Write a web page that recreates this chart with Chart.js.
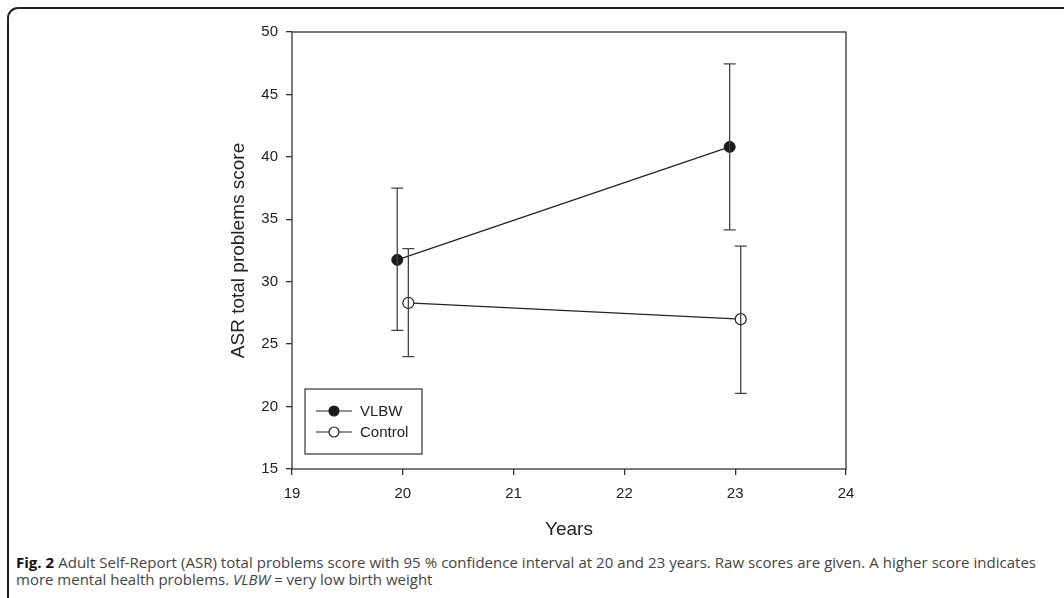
<!DOCTYPE html>
<html lang="en">
<head>
    <meta charset="UTF-8">
    <title>ASR total problems score</title>
    <script src="https://cdn.jsdelivr.net/npm/chart.js"></script>
    <style>
        html, body { margin: 0; padding: 0; background: #fff; }
        #wrap { position: relative; width: 1064px; height: 598px; overflow: hidden; }
        #frame { position: absolute; left: 7px; top: 7px; width: 1100px; height: 640px;
                 border: 2px solid #222; border-radius: 11px; box-sizing: border-box; }
        #caption { position: absolute; left: 16px; top: 554px; width: 1020px; font-family: "Open Sans", sans-serif;
                   font-size: 15px; line-height: 17px; color: #444; text-align: justify; }
        #caption b { color: #111; }
        #caption .l1 { display: block; text-align-last: justify; white-space: nowrap; }
        #caption .l2 { display: block; white-space: nowrap; }
    </style>
</head>
<body>
<div id="wrap">
    <div id="frame"></div>
    <canvas id="asrChart" width="1064" height="545" style="position:absolute;left:0;top:0;"></canvas>
    <div id="caption"><span class="l1"><b>Fig. 2</b> Adult Self-Report (ASR) total problems score with 95 % confidence interval at 20 and 23 years. Raw scores are given. A higher score indicates</span><span class="l2">more mental health problems. <i>VLBW</i> = very low birth weight</span></div>
</div>

<script>
    // values (groups slightly offset around 20 and 23 years)
    const vlbwYears = [19.95, 22.95];
    const vlbwMean = [31.75, 40.8];
    const vlbwLow = [26.1, 34.15];
    const vlbwHigh = [37.5, 47.45];

    const controlYears = [20.05, 23.05];
    const controlMean = [28.3, 27.0];
    const controlLow = [24.0, 21.05];
    const controlHigh = [32.65, 32.85];

    const seriesNames = ["VLBW", "Control"];
    const xTicks = [19, 20, 21, 22, 23, 24];
    const yTicks = [15, 20, 25, 30, 35, 40, 45, 50];

    const axisColor = "#333";
    const textColor = "#222";
    const arial = "'Liberation Sans', Arial, sans-serif";

    function toPoints(xs, ys) {
        return xs.map((x, i) => ({ x: x, y: ys[i] }));
    }

    // error bars with caps + closed plot box
    const errorBars = {
        id: "errorBars",
        beforeDatasetsDraw(chart) {
            const { ctx, chartArea: a } = chart;
            ctx.save();
            ctx.strokeStyle = axisColor;
            ctx.lineWidth = 1.3;
            ctx.strokeRect(a.left, a.top, a.right - a.left, a.bottom - a.top);
            ctx.restore();
        },
        afterDatasetsDraw(chart) {
            const { ctx, scales: { x, y } } = chart;
            const sets = [[vlbwYears, vlbwLow, vlbwHigh], [controlYears, controlLow, controlHigh]];
            ctx.save();
            ctx.strokeStyle = "#444";
            ctx.lineWidth = 1.3;
            sets.forEach(([xs, lo, hi]) => {
                xs.forEach((xv, i) => {
                    const px = x.getPixelForValue(xv);
                    const pLo = y.getPixelForValue(lo[i]);
                    const pHi = y.getPixelForValue(hi[i]);
                    ctx.beginPath();
                    ctx.moveTo(px, pLo); ctx.lineTo(px, pHi);
                    ctx.moveTo(px - 6, pLo); ctx.lineTo(px + 6, pLo);
                    ctx.moveTo(px - 6, pHi); ctx.lineTo(px + 6, pHi);
                    ctx.stroke();
                });
            });
            ctx.restore();
        }
    };

    // legend box inside the plot, lower left
    const insideLegend = {
        id: "insideLegend",
        afterDraw(chart) {
            const { ctx } = chart;
            const x0 = 305, y0 = 389, w = 117, h = 65;
            ctx.save();
            ctx.fillStyle = "#fff";
            ctx.fillRect(x0, y0, w, h);
            ctx.strokeStyle = axisColor;
            ctx.lineWidth = 1.2;
            ctx.strokeRect(x0, y0, w, h);
            ctx.font = "15px " + arial;
            ctx.textBaseline = "middle";
            chart.data.datasets.forEach((ds, i) => {
                const yy = y0 + 22 + i * 21;
                ctx.strokeStyle = "#222";
                ctx.lineWidth = 1.2;
                ctx.beginPath();
                ctx.moveTo(x0 + 11, yy); ctx.lineTo(x0 + 47, yy);
                ctx.stroke();
                ctx.beginPath();
                ctx.arc(x0 + 29, yy, 5, 0, Math.PI * 2);
                ctx.fillStyle = ds.pointBackgroundColor;
                ctx.fill();
                ctx.stroke();
                ctx.fillStyle = textColor;
                ctx.fillText(seriesNames[i], x0 + 55, yy + 1);
            });
            ctx.restore();
        }
    };

    const ctx = document.getElementById("asrChart").getContext("2d");
    const asrChart = new Chart(ctx, {
        type: "scatter",
        data: {
            datasets: [{
                label: seriesNames[0],
                data: toPoints(vlbwYears, vlbwMean),
                showLine: true,
                borderColor: "#222",
                borderWidth: 1.2,
                pointRadius: 5.5,
                pointBackgroundColor: "#1a1a1a",
                pointBorderColor: "#1a1a1a",
                pointBorderWidth: 1
            }, {
                label: seriesNames[1],
                data: toPoints(controlYears, controlMean),
                showLine: true,
                borderColor: "#222",
                borderWidth: 1.2,
                pointRadius: 5.5,
                pointBackgroundColor: "#fff",
                pointBorderColor: "#222",
                pointBorderWidth: 1.2
            }]
        },
        options: {
            responsive: false,
            animation: false,
            layout: { padding: { left: 227, top: 32, right: 218, bottom: 0 } },
            plugins: { legend: { display: false }, tooltip: { enabled: false } },
            scales: {
                x: {
                    type: "linear", min: 19, max: 24,
                    afterBuildTicks: s => { s.ticks = xTicks.map(v => ({ value: v })); },
                    afterFit: s => { s.height = 76; },
                    border: { display: false },
                    grid: { drawOnChartArea: false, drawTicks: true, tickLength: 6, color: axisColor, lineWidth: 1.3 },
                    ticks: { color: textColor, padding: 10, font: { family: arial, size: 15 } },
                    title: { display: true, text: "Years", color: textColor, padding: { top: 22 },
                             font: { family: arial, size: 19 } }
                },
                y: {
                    type: "linear", min: 15, max: 50,
                    afterBuildTicks: s => { s.ticks = yTicks.map(v => ({ value: v })); },
                    afterFit: s => { s.width = 65; },
                    border: { display: false },
                    grid: { drawOnChartArea: false, drawTicks: true, tickLength: 6, color: axisColor, lineWidth: 1.3 },
                    ticks: { color: textColor, padding: 8, font: { family: arial, size: 15 } },
                    title: { display: true, text: "ASR total problems score", color: textColor, padding: { top: 0, bottom: 0 },
                             font: { family: arial, size: 19 } }
                }
            }
        },
        plugins: [errorBars, insideLegend]
    });
</script>
</body>
</html>
